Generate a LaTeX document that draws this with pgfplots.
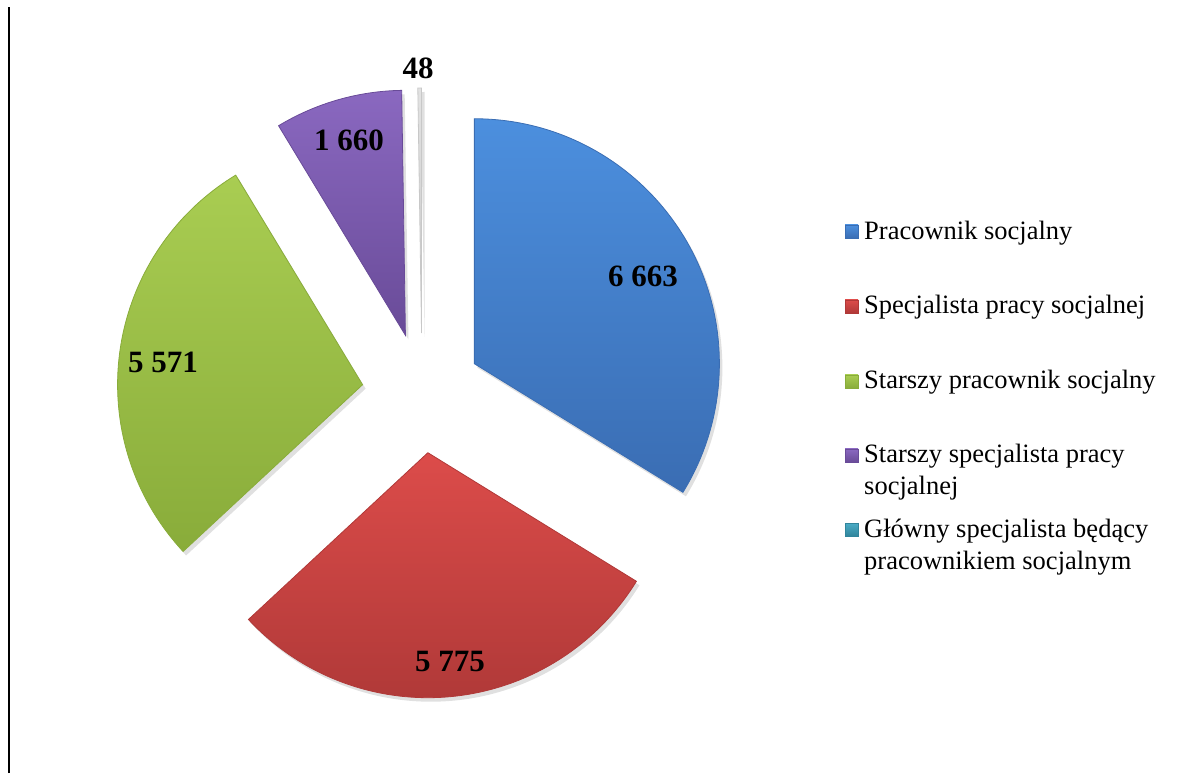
\documentclass[border=0pt]{standalone}
\usepackage{pgfplots}
\pgfplotsset{compat=1.18}
\usepackage{fontspec}
\setmainfont{Liberation Serif}
\definecolor{blueT}{HTML}{4C8FDE}
\definecolor{blueB}{HTML}{3A6DB3}
\definecolor{redT}{HTML}{DC4C4A}
\definecolor{redB}{HTML}{B03938}
\definecolor{greenT}{HTML}{A9CD52}
\definecolor{greenB}{HTML}{89AC3A}
\definecolor{purpT}{HTML}{8A68C0}
\definecolor{purpB}{HTML}{694B98}
\definecolor{tealT}{HTML}{E2E2E2}
\definecolor{tealB}{HTML}{C8C8C8}
\definecolor{tealL}{HTML}{4BACC6}
\definecolor{tealLB}{HTML}{31859C}
% value / top colour / bottom colour
\def\slices{6663/blueT/blueB, 5775/redT/redB, 5571/greenT/greenB, 1660/purpT/purpB, 48/tealT/tealB}
\begin{document}
\begin{tikzpicture}
\begin{axis}[width=1184bp,height=773bp,scale only axis,
  xmin=0,xmax=1184,ymin=0,ymax=773,hide axis,clip=false]
\path (axis cs:0,0) rectangle (axis cs:1184,773);
\draw[line width=1.4bp] (axis cs:9,0) -- (axis cs:9,766);
% total
\xdef\tot{0}
\foreach \v/\ct/\cb in \slices {\xdef\tot{\the\numexpr\tot+\v\relax}}
\xdef\acc{90}
\foreach \v/\ct/\cb in \slices {
  \edef\sweep{\fpeval{360*\v/\tot}}
  \edef\aS{\fpeval{round(\acc,4)}}
  \edef\aE{\fpeval{round(\acc-\sweep,4)}}
  \edef\aM{\fpeval{round(\acc-\sweep/2,4)}}
  \edef\ax{\fpeval{round(422+60*cosd(\aM),3)}}
  \edef\ay{\fpeval{round(380+60*sind(\aM),3)}}
  \edef\sx{\fpeval{\ax+3}}
  \edef\sy{\fpeval{\ay-4}}
  \edef\temp{\noexpand\fill[black,opacity=0.12] (axis cs:\sx,\sy) -- ++(\aS:245bp) arc[start angle=\aS, end angle=\aE, radius=245bp] -- cycle;
    \noexpand\shadedraw[top color=\ct, bottom color=\cb, draw=\cb, line width=0.8bp] (axis cs:\ax,\ay) -- ++(\aS:245bp) arc[start angle=\aS, end angle=\aE, radius=245bp] -- cycle;}
  \temp
  \xdef\acc{\aE}
}
% value labels
\node[font=\fontsize{31bp}{37bp}\selectfont\bfseries] at (axis cs:643,497) {6 663};
\node[font=\fontsize{31bp}{37bp}\selectfont\bfseries] at (axis cs:450,112) {5 775};
\node[font=\fontsize{31bp}{37bp}\selectfont\bfseries] at (axis cs:163,411) {5 571};
\node[font=\fontsize{31bp}{37bp}\selectfont\bfseries] at (axis cs:349,633) {1 660};
\node[font=\fontsize{31bp}{37bp}\selectfont\bfseries] at (axis cs:418,705) {48};
% legend
\shadedraw[top color=blueT, bottom color=blueB, draw=blueB, line width=0.5bp] (axis cs:845,535) rectangle (axis cs:858,548);
\shadedraw[top color=redT, bottom color=redB, draw=redB, line width=0.5bp] (axis cs:845,460) rectangle (axis cs:858,473);
\shadedraw[top color=greenT, bottom color=greenB, draw=greenB, line width=0.5bp] (axis cs:845,385) rectangle (axis cs:858,398);
\shadedraw[top color=purpT, bottom color=purpB, draw=purpB, line width=0.5bp] (axis cs:845,311) rectangle (axis cs:858,324);
\shadedraw[top color=tealL, bottom color=tealLB, draw=tealLB, line width=0.5bp] (axis cs:845,237) rectangle (axis cs:858,250);
\tikzset{lt/.style={anchor=base west,inner sep=0pt,font=\fontsize{26.5bp}{31bp}\selectfont}}
\node[lt] at (axis cs:864,533) {Pracownik socjalny};
\node[lt] at (axis cs:864,459) {Specjalista pracy socjalnej};
\node[lt] at (axis cs:864,384) {Starszy pracownik socjalny};
\node[lt] at (axis cs:864,310) {Starszy specjalista pracy};
\node[lt] at (axis cs:864,278) {socjalnej};
\node[lt] at (axis cs:864,236) {Główny specjalista będący};
\node[lt] at (axis cs:864,204) {pracownikiem socjalnym};
\end{axis}
\end{tikzpicture}
\end{document}
